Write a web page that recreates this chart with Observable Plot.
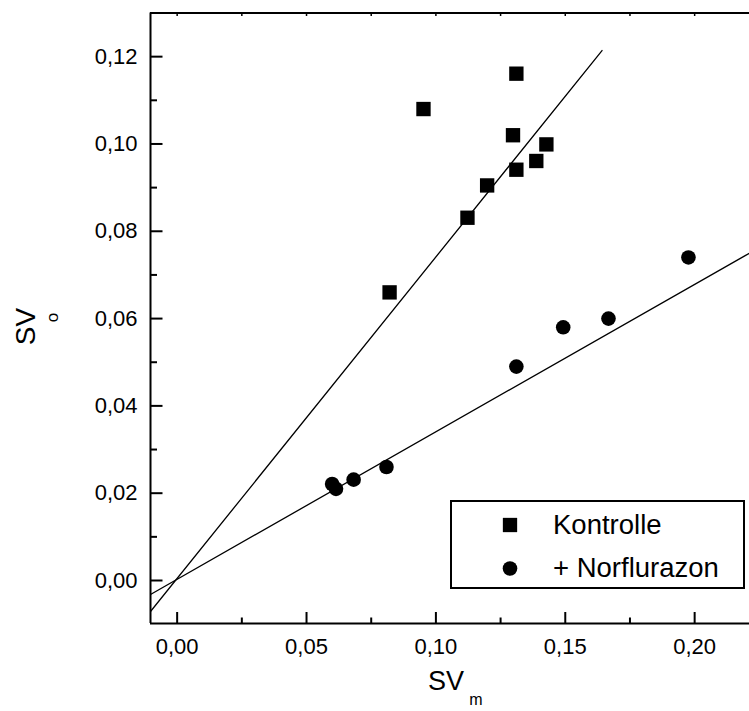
<!DOCTYPE html>
<html><head><meta charset="utf-8">
<script src="https://cdn.jsdelivr.net/npm/d3@7"></script>
<script src="https://cdn.jsdelivr.net/npm/@observablehq/plot@0.6"></script>
<style>
body{margin:0;background:#fff}
#chart{position:relative;width:749px;height:711px;overflow:hidden;font-family:"Liberation Sans",Arial,sans-serif}
#chart svg{position:absolute;left:0;top:0}
</style>
</head><body><div id="chart"></div>
<script>
// Data
const seriesNames = ["Kontrolle", "+ Norflurazon"];
const kontrolleX = [0.1311, 0.0952, 0.1298, 0.1427, 0.1388, 0.1311, 0.1198, 0.1122, 0.0821];
const kontrolleY = [0.1161, 0.1080, 0.1020, 0.0999, 0.0961, 0.0941, 0.0905, 0.0831, 0.0660];
const norfluX = [0.0599, 0.0614, 0.0682, 0.0809, 0.1311, 0.1492, 0.1667, 0.1976];
const norfluY = [0.0221, 0.0210, 0.0231, 0.0260, 0.0490, 0.0580, 0.0600, 0.0740];
// regression lines (end points)
const fitKontrolleX = [-0.0103, 0.1642];
const fitKontrolleY = [-0.0071, 0.1214];
const fitNorfluX = [-0.0103, 0.2212];
const fitNorfluY = [-0.0032, 0.0750];
// ticks
const xMajor = [0, 0.05, 0.10, 0.15, 0.20];
const xMinor = [0.025, 0.075, 0.125, 0.175];
const xTop = [0, 0.025, 0.05, 0.075, 0.10, 0.125, 0.15, 0.175, 0.20];
const yMajor = [0, 0.02, 0.04, 0.06, 0.08, 0.10, 0.12];
const yMinor = [0.01, 0.03, 0.05, 0.07, 0.09, 0.11];
const xDomain = [-0.0103, 0.2212];
const yDomain = [-0.00985, 0.130];

const fmt = d => d.toFixed(2).replace(".", ",");
const zip = (xs, ys) => xs.map((x, i) => ({x, y: ys[i]}));
const kontrolle = zip(kontrolleX, kontrolleY);
const norflu = zip(norfluX, norfluY);
const fitK = zip(fitKontrolleX, fitKontrolleY);
const fitN = zip(fitNorfluX, fitNorfluY);

const seg = (dx, dy) => ({draw(ctx){ ctx.moveTo(0,0); ctx.lineTo(dx,dy); }});
const FONT = '"Liberation Sans", Arial, sans-serif';

const plot = Plot.plot({
  width: 749, height: 711,
  marginLeft: 150, marginRight: 0, marginTop: 12.5, marginBottom: 88,
  style: {fontFamily: FONT, color: "black", background: "white", overflow: "visible"},
  x: {domain: xDomain},
  y: {domain: yDomain},
  marks: [
    Plot.line(fitK, {x: "x", y: "y", stroke: "black", strokeWidth: 1.3, clip: true}),
    Plot.line(fitN, {x: "x", y: "y", stroke: "black", strokeWidth: 1.3, clip: true}),
    Plot.dot(kontrolle, {x: "x", y: "y", symbol: "square", r: 8.1, fill: "black"}),
    Plot.dot(norflu, {x: "x", y: "y", symbol: "circle", r: 7.3, fill: "black"}),
    // frame
    Plot.ruleX([xDomain[0]], {stroke: "black", strokeWidth: 2}),
    Plot.ruleY([yDomain[0], yDomain[1]], {stroke: "black", strokeWidth: 2}),
    // inward ticks
    Plot.dot(yMajor, {x: () => xDomain[0], y: d => d, symbol: seg(12, 0), stroke: "black", fill: "none", strokeWidth: 2}),
    Plot.dot(yMinor, {x: () => xDomain[0], y: d => d, symbol: seg(6.5, 0), stroke: "black", fill: "none", strokeWidth: 2}),
    Plot.dot(xMajor, {x: d => d, y: () => yDomain[0], symbol: seg(0, -11.5), stroke: "black", fill: "none", strokeWidth: 2}),
    Plot.dot(xMinor, {x: d => d, y: () => yDomain[0], symbol: seg(0, -6), stroke: "black", fill: "none", strokeWidth: 2}),
    Plot.dot(xTop, {x: d => d, y: () => yDomain[1], symbol: seg(0, 3), stroke: "black", fill: "none", strokeWidth: 1.5}),
    // tick labels
    Plot.axisX(xMajor, {anchor: "bottom", tickSize: 0, tickPadding: 15, tickFormat: fmt, fontSize: 22, label: null}),
    Plot.axisY(yMajor, {anchor: "left", tickSize: 0, tickPadding: 13, tickFormat: fmt, fontSize: 22, label: null}),
    // axis titles with subscripts
    Plot.text(["SV"], {frameAnchor: "bottom", dx: -4, dy: 58, lineAnchor: "middle", fontSize: 27, fill: "black"}),
    Plot.text(["m"], {frameAnchor: "bottom", dx: 26, dy: 76, lineAnchor: "middle", fontSize: 16, fill: "black"}),
    Plot.text(["SV"], {frameAnchor: "left", dx: -124, dy: 27, rotate: -90, lineAnchor: "middle", fontSize: 28, fill: "black"}),
    Plot.text(["o"], {frameAnchor: "left", dx: -98, dy: 4, rotate: -90, lineAnchor: "middle", fontSize: 17, fill: "black"})
  ]
});
document.getElementById("chart").appendChild(plot);

// Legend (inside the plot area, lower right)
const leg = d3.select("#chart").append("svg")
  .attr("width", 749).attr("height", 711);
leg.append("rect").attr("x", 451).attr("y", 501).attr("width", 293).attr("height", 87)
  .attr("fill", "white").attr("stroke", "black").attr("stroke-width", 2);
const symbols = [d3.symbolSquare, d3.symbolCircle];
const sizes = [14.3 * 14.3, Math.PI * 7.3 * 7.3];
seriesNames.forEach((name, i) => {
  const cy = 525 + i * 43.5;
  leg.append("path").attr("transform", `translate(510,${cy})`)
    .attr("d", d3.symbol(symbols[i], sizes[i])()).attr("fill", "black");
  leg.append("text").attr("x", 553).attr("y", cy + 8.5)
    .attr("font-family", FONT).attr("font-size", 27.5).attr("fill", "black")
    .text(name);
});
</script>
</body></html>
